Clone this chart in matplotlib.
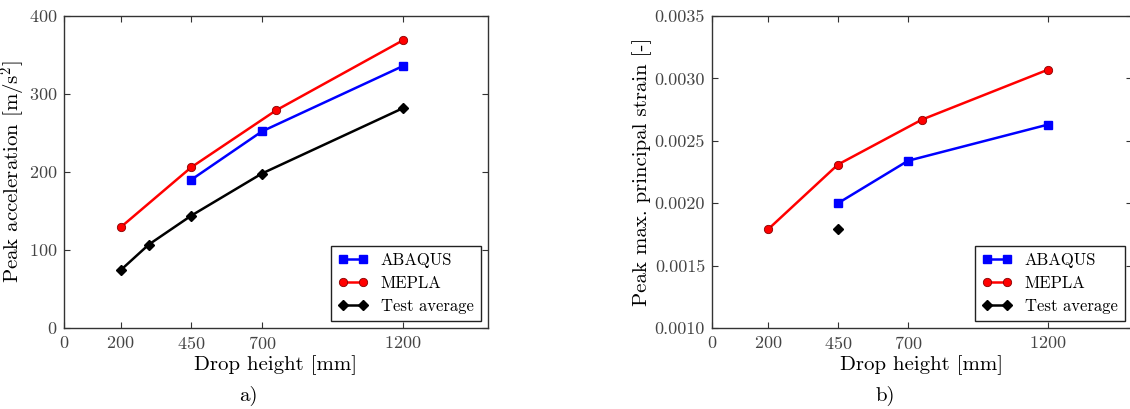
import matplotlib
matplotlib.use("Agg")
import matplotlib.pyplot as plt
from matplotlib.ticker import FormatStrFormatter

# drop heights [mm]
abaqus_h = [450, 700, 1200]
mepla_h = [200, 450, 750, 1200]
test_h_acc = [200, 300, 450, 700, 1200]
test_h_strain = [450]

# a) peak acceleration [m/s^2]
abaqus_acc = [190, 252, 336]
mepla_acc = [129, 206, 279, 369]
test_acc = [74, 107, 144, 198, 282]

# b) peak max. principal strain [-]
abaqus_strain = [0.00200, 0.00234, 0.00263]
mepla_strain = [0.00179, 0.00231, 0.00267, 0.00307]
test_strain = [0.00179]

x_ticks = [0, 200, 450, 700, 1200]

plt.rcParams["font.family"] = ["cmr10", "DejaVu Serif"]
plt.rcParams["mathtext.fontset"] = "cm"
plt.rcParams["axes.unicode_minus"] = False
plt.rcParams["axes.formatter.use_mathtext"] = True

fig = plt.figure(figsize=(11.3, 4.09), dpi=100)
W, H = 1130, 409
ax1 = fig.add_axes([64 / W, 1 - 328 / H, 424 / W, 312 / H])
ax2 = fig.add_axes([712 / W, 1 - 328 / H, 420 / W, 312 / H])


def style(ax, label_x):
    ax.set_xlim(0, 1500)
    ax.set_xticks(x_ticks)
    ax.tick_params(direction="in", top=True, right=True, length=4, width=0.8,
                   labelsize=13, pad=5, colors="#333333", labelcolor="#444444")
    for s in ax.spines.values():
        s.set_color("#333333")
        s.set_linewidth(1.0)
    ax.set_xlabel("Drop height [mm]", fontsize=15, labelpad=2)
    ax.yaxis.set_label_coords(label_x, 0.5)
    ax.legend(loc="lower right", fontsize=12, fancybox=False, edgecolor="#222222",
              framealpha=1, handlelength=1.8, numpoints=2, borderaxespad=0.45,
              labelspacing=0.45)


ax1.plot(abaqus_h, abaqus_acc, "s-", color="b", lw=1.8, ms=5.5, mec="b", label="ABAQUS")
ax1.plot(mepla_h, mepla_acc, "o-", color="r", lw=1.8, ms=6, mec="#880000", mew=0.6, label="MEPLA")
ax1.plot(test_h_acc, test_acc, "D-", color="k", lw=1.8, ms=5.5, label="Test average")
ax1.set_ylim(0, 400)
ax1.set_yticks([0, 100, 200, 300, 400])
ax1.set_ylabel("Peak acceleration [m/s$^2$]", fontsize=15)
style(ax1, -0.085)

ax2.plot(abaqus_h, abaqus_strain, "s-", color="b", lw=1.8, ms=5.5, mec="b", label="ABAQUS")
ax2.plot(mepla_h, mepla_strain, "o-", color="r", lw=1.8, ms=6, mec="#880000", mew=0.6, label="MEPLA")
ax2.plot(test_h_strain, test_strain, "D-", color="k", lw=1.8, ms=5.5, label="Test average")
ax2.set_ylim(0.0010, 0.0035)
ax2.set_yticks([0.0010, 0.0015, 0.0020, 0.0025, 0.0030, 0.0035])
ax2.yaxis.set_major_formatter(FormatStrFormatter("%.4f"))
ax2.set_ylabel("Peak max. principal strain [-]", fontsize=15)
style(ax2, -0.143)

fig.text(248 / W, 1 - 396 / H, "a)", ha="center", va="center", fontsize=15)
fig.text(885 / W, 1 - 396 / H, "b)", ha="center", va="center", fontsize=15)

fig.savefig("out.png", dpi=100)
